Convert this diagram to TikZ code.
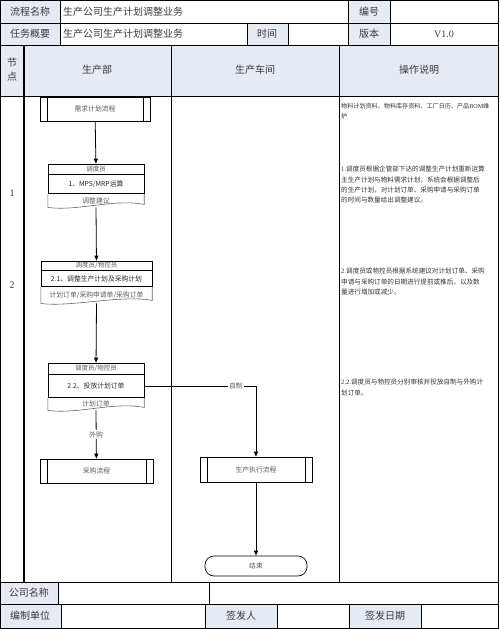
\documentclass[tikz,border=0pt]{standalone}
\usepackage{fontspec}
\setmainfont{Noto Sans CJK SC}
\newfontfamily\latin{Liberation Serif}
\usepackage{xcolor}
\usetikzlibrary{positioning}
\usetikzlibrary{arrows.meta}
\definecolor{headfill}{HTML}{E6EAF2}
\definecolor{inkgray}{HTML}{3A3A3A}

\begin{document}
\begin{tikzpicture}[x=1pt, y=-1pt,
    grid/.style={line width=0.9pt},
    head/.style={fill=headfill},
    htext/.style={font=\fontsize{10}{12}\selectfont, text=inkgray, inner sep=0pt},
    desc/.style={anchor=north west, inner sep=0pt, text width=155pt, align=left, font=\fontsize{6.6}{10.3}\selectfont, text=black!80},
    role/.style={draw, line width=0.7pt, inner sep=0pt, font=\fontsize{6.5}{7}\selectfont, text=black!65},
    stepbox/.style={draw, line width=0.7pt, inner sep=0pt, font=\fontsize{6.8}{8}\selectfont, text=black!85},
    docbox/.style={inner sep=0pt, font=\fontsize{6.8}{8}\selectfont, text=black!65},
    proc/.style={draw, line width=0.7pt, inner sep=0pt, minimum height=24pt, font=\fontsize{6.8}{8}\selectfont, text=black!65,
        path picture={\draw[line width=0.7pt]
            ([xshift=7pt]path picture bounding box.north west) -- ([xshift=7pt]path picture bounding box.south west)
            ([xshift=-7pt]path picture bounding box.north east) -- ([xshift=-7pt]path picture bounding box.south east);}},
    term/.style={draw, line width=0.7pt, rounded corners=9pt, inner sep=0pt, font=\fontsize{6.8}{8}\selectfont, text=black!65},
    flow/.style={-{Triangle[length=5pt, width=4pt]}, line width=0.8pt},
    tag/.style={fill=white, inner sep=1pt, font=\fontsize{6.8}{8}\selectfont, text=black!65}
]
    \useasboundingbox (0,0) rectangle (499,629);

    % Header fills
    \fill[head] (0,0) rectangle (60,23);
    \fill[head] (348,0) rectangle (390,23);
    \fill[head] (0,23) rectangle (60,45);
    \fill[head] (247,23) rectangle (288,45);
    \fill[head] (348,23) rectangle (390,45);
    \fill[head] (0,45) rectangle (499,96);
    \fill[head] (0,582) rectangle (58,604);
    \fill[head] (0,604) rectangle (61,629);
    \fill[head] (205,604) rectangle (277,629);
    \fill[head] (349,604) rectangle (421,629);

    % Grid
    \draw[grid] (0.5,0.5) rectangle (498.5,628.5);
    \foreach \y in {23,45,96,582,604}
        \draw[grid] (0,\y) -- (499,\y);
    \foreach \x in {60,348,390}
        \draw[grid] (\x,0) -- (\x,23);
    \foreach \x in {60,247,288,348,390}
        \draw[grid] (\x,23) -- (\x,45);
    \draw[line width=1.6pt] (24,45) -- (24,582);
    \foreach \x in {171,339}
        \draw[grid] (\x,45) -- (\x,582);
    \foreach \x in {58,209}
        \draw[grid] (\x,582) -- (\x,604);
    \foreach \x in {61,205,277,349,421}
        \draw[grid] (\x,604) -- (\x,629);

    % Header texts
    \node[htext] (procname) at (30,12) {流程名称};
    \node[htext, anchor=west] (proctitle) at (63,12) {生产公司生产计划调整业务};
    \node[htext] (codelbl) at (369,12) {编号};
    \node[htext] (tasklbl) at (30,34) {任务概要};
    \node[htext, anchor=west] (tasktitle) at (63,34) {生产公司生产计划调整业务};
    \node[htext] (timelbl) at (267,34) {时间};
    \node[htext] (verlbl) at (369,34) {版本};
    \node[htext] (ver) at (444,34) {\latin V1.0};
    \node[htext, align=center] (nodelbl) at (12,70) {节\\[2pt]点};
    \node[htext] (lane1) at (97,70) {生产部};
    \node[htext] (lane2) at (255,70) {生产车间};
    \node[htext] (lane3) at (419,70) {操作说明};
    \node[htext] (num1) at (12,193) {\latin 1};
    \node[htext] (num2) at (12,285) {\latin 2};

    % Footer texts
    \node[htext] (complbl) at (29,593) {公司名称};
    \node[htext] (unitlbl) at (30,616) {编制单位};
    \node[htext] (signlbl) at (241,616) {签发人};
    \node[htext] (datelbl) at (385,616) {签发日期};

    % Flow: production department
    \node[proc, minimum width=110pt] (xuqiu) at (95,109) {需求计划流程};

    \node[role, minimum width=96pt, minimum height=10pt] (role1) at (96,169) {调度员};
    \node[stepbox, minimum width=96pt, minimum height=19pt, below=0pt of role1] (step1) {1、MPS/MRP运算};
    \node[docbox, minimum width=96pt, minimum height=13pt, below=0pt of step1] (doc1) {调整建议};

    \node[role, minimum width=111pt, minimum height=9pt] (role2) at (96.5,265.5) {调度员/物控员};
    \node[stepbox, minimum width=111pt, minimum height=16pt, below=0pt of role2] (step2) {2.1、调整生产计划及采购计划};
    \node[docbox, minimum width=111pt, minimum height=16pt, below=0pt of step2] (doc2) {计划订单/采购申请单/采购订单};

    \node[role, minimum width=96pt, minimum height=11pt] (role3) at (96,368.5) {调度员/物控员};
    \node[stepbox, minimum width=96pt, minimum height=23pt, below=0pt of role3] (step3) {2.2、投放计划订单};
    \node[docbox, minimum width=96pt, minimum height=12pt, below=0pt of step3] (doc3) {计划订单};

    \node[proc, minimum width=113pt] (caigou) at (96.5,471) {采购流程};

    % Flow: workshop
    \node[proc, minimum width=112pt, minimum height=25pt] (zhixing) at (256,469.5) {生产执行流程};
    \node[term, minimum width=102pt, minimum height=20pt] (jieshu) at (256,566) {结束};

    % Document outlines
    \foreach \d in {doc1,doc2,doc3}
        \draw[line width=0.6pt, black!60] (\d.north west) -- (\d.south west)
            .. controls +(30,4) and +(-30,-6) .. ([yshift=3pt]\d.south east) -- (\d.north east);

    % Connectors
    \draw[flow] (xuqiu) -- (role1);
    \draw[flow] (doc1.south) -- (role2);
    \draw[flow] (doc2.south) -- (role3);
    \draw[flow] (doc3.south) -- node[tag] (waigou) {外购} (caigou);
    \draw[flow] (step3.east) -| node[tag, pos=0.41] (zizhi) {自制} (zhixing.north);
    \draw[flow] (zhixing) -- (jieshu);

    % Notes
    \node[desc, font=\fontsize{6.1}{10.3}\selectfont] (note0) at (341,103) {物料计划资料、物料库存资料、工厂日历、产品{\latin BOM}维\\护};
    \node[desc] (note1) at (341,166) {{\latin 1.}调度员根据企管部下达的调整生产计划重新运算\\主生产计划与物料需求计划，系统会根据调整后\\的生产计划，对计划订单、采购申请与采购订单\\的时间与数量给出调整建议。};
    \node[desc] (note2) at (341,268) {{\latin 2.}调度员或物控员根据系统建议对计划订单、采购\\申请与采购订单的日期进行提前或推后，以及数\\量进行增加或减少。};
    \node[desc] (note3) at (341,379) {{\latin 2.2.}调度员与物控员分别审核并投放自制与外购计\\划订单。};
\end{tikzpicture}
\end{document}
